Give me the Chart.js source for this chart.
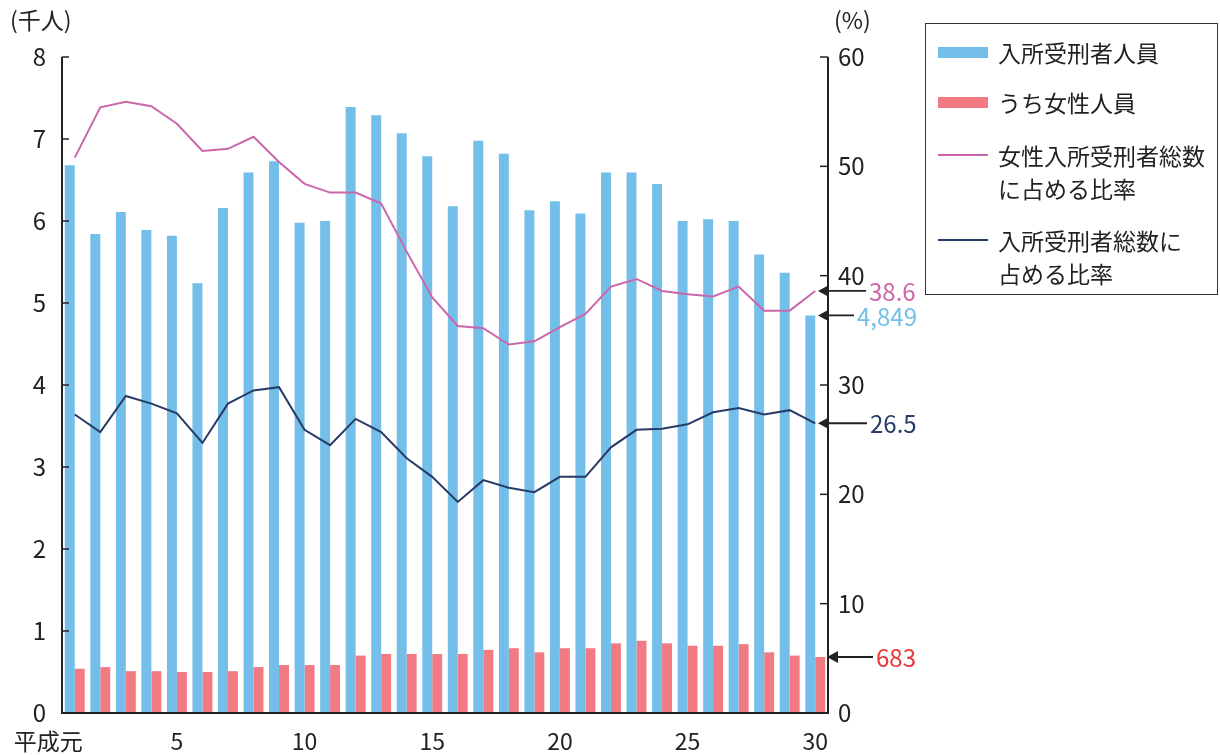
<!DOCTYPE html>
<html lang="ja">
<head>
<meta charset="utf-8">
<title>入所受刑者人員</title>
<script src="https://cdn.jsdelivr.net/npm/chart.js@4/dist/chart.umd.min.js"></script>
<style>
  html, body { margin: 0; padding: 0; background: #fff; }
  #wrap { position: relative; width: 1220px; height: 755px; font-family: "Noto Sans CJK JP", "Noto Sans", sans-serif; color: #222; }
  #legend { position: absolute; left: 925px; top: 23px; width: 291px; height: 270px; border: 1.5px solid #333; box-sizing: content-box; }
  .item { position: absolute; left: 0; font-size: 23px; line-height: 33px; }
  .item .sw { position: absolute; left: 12px; width: 50px; }
  .item .tx { position: absolute; left: 72px; white-space: nowrap; }
</style>
</head>
<body>
<div id="wrap">
  <canvas id="chart" width="1220" height="755"></canvas>
  <div id="legend"></div>
</div>
<script>
document.addEventListener('DOMContentLoaded', () => {
    // Data (平成元年〜30年)
    const years = ['平成元', '2', '3', '4', '5', '6', '7', '8', '9', '10',
        '11', '12', '13', '14', '15', '16', '17', '18', '19', '20',
        '21', '22', '23', '24', '25', '26', '27', '28', '29', '30'];
    const shownYears = ['平成元', '5', '10', '15', '20', '25', '30'];

    // 入所受刑者人員 (千人)
    const totalInmates = [6.68, 5.84, 6.11, 5.89, 5.82, 5.24, 6.16, 6.59, 6.73, 5.98,
        6.00, 7.39, 7.29, 7.07, 6.79, 6.18, 6.98, 6.82, 6.13, 6.24,
        6.09, 6.59, 6.59, 6.45, 6.00, 6.02, 6.00, 5.59, 5.37, 4.849];
    // うち女性人員 (千人)
    const femaleInmates = [0.54, 0.56, 0.51, 0.51, 0.50, 0.50, 0.51, 0.56, 0.585, 0.585,
        0.585, 0.70, 0.72, 0.72, 0.72, 0.72, 0.77, 0.79, 0.74, 0.79,
        0.79, 0.85, 0.88, 0.85, 0.82, 0.82, 0.84, 0.74, 0.70, 0.683];
    // 女性入所受刑者総数に占める比率 (%)
    const femaleRatio = [50.8, 55.4, 55.9, 55.5, 53.9, 51.4, 51.6, 52.7, 50.4, 48.4,
        47.6, 47.6, 46.6, 42.2, 38.0, 35.4, 35.2, 33.7, 34.0, 35.3,
        36.5, 39.0, 39.7, 38.6, 38.3, 38.1, 39.0, 36.8, 36.8, 38.6];
    // 入所受刑者総数に占める比率 (%)
    const totalRatio = [27.3, 25.7, 29.0, 28.3, 27.4, 24.7, 28.3, 29.5, 29.8, 25.9,
        24.5, 26.9, 25.7, 23.3, 21.6, 19.3, 21.3, 20.6, 20.2, 21.6,
        21.6, 24.3, 25.9, 26.0, 26.4, 27.5, 27.9, 27.3, 27.7, 26.5];

    const leftTicks = [0, 1, 2, 3, 4, 5, 6, 7, 8];
    const rightTicks = [0, 10, 20, 30, 40, 50, 60];

    const seriesNames = ['入所受刑者人員', 'うち女性人員',
        '女性入所受刑者総数\nに占める比率', '入所受刑者総数に\n占める比率'];

    const BLUE = '#74bfea';
    const RED = '#f27b83';
    const PINK = '#cc66aa';
    const NAVY = '#263c66';
    const INK = '#222222';
    const FONT = '"Noto Sans CJK JP", "Noto Sans", sans-serif';

    const last = years.length - 1;

    // Build legend
    const legend = document.getElementById('legend');
    const legendRows = [
        { name: seriesNames[0], color: BLUE, type: 'bar', top: 12 },
        { name: seriesNames[1], color: RED, type: 'bar', top: 62 },
        { name: seriesNames[2], color: PINK, type: 'line', top: 115 },
        { name: seriesNames[3], color: NAVY, type: 'line', top: 200 }
    ];
    legendRows.forEach(row => {
        const el = document.createElement('div');
        el.className = 'item';
        el.style.top = row.top + 'px';
        const sw = document.createElement('div');
        sw.className = 'sw';
        sw.style.background = row.color;
        if (row.type === 'bar') {
            sw.style.height = '11px';
            sw.style.top = '11px';
        } else {
            sw.style.height = '2px';
            sw.style.top = '15px';
        }
        const tx = document.createElement('div');
        tx.className = 'tx';
        tx.innerHTML = row.name.split('\n').join('<br>');
        el.appendChild(sw);
        el.appendChild(tx);
        legend.appendChild(el);
    });

    // Axes, x labels, titles and end-value arrows
    const decorPlugin = {
        id: 'decor',
        afterDraw(chart) {
            const ctx = chart.ctx;
            const area = chart.chartArea;
            const x = chart.scales.x;
            const y = chart.scales.y;
            const y1 = chart.scales.y1;
            ctx.save();
            ctx.strokeStyle = INK;
            ctx.lineWidth = 2;

            // axis lines
            ctx.beginPath();
            ctx.moveTo(area.left, area.top);
            ctx.lineTo(area.left, area.bottom);
            ctx.lineTo(area.right, area.bottom);
            ctx.lineTo(area.right, area.top);
            ctx.stroke();

            // inward ticks
            ctx.lineWidth = 1.5;
            leftTicks.forEach(v => {
                const py = y.getPixelForValue(v);
                ctx.beginPath();
                ctx.moveTo(area.left, py);
                ctx.lineTo(area.left + 7, py);
                ctx.stroke();
            });
            rightTicks.forEach(v => {
                const py = y1.getPixelForValue(v);
                ctx.beginPath();
                ctx.moveTo(area.right, py);
                ctx.lineTo(area.right - 8, py);
                ctx.stroke();
            });

            // x labels
            ctx.fillStyle = INK;
            ctx.font = '23px ' + FONT;
            ctx.textBaseline = 'middle';
            shownYears.forEach(lbl => {
                const i = years.indexOf(lbl);
                const px = x.getPixelForValue(i);
                if (i === 0) {
                    ctx.textAlign = 'right';
                    ctx.fillText(lbl, px + 8, area.bottom + 28);
                } else {
                    ctx.textAlign = 'center';
                    ctx.fillText(lbl, px, area.bottom + 28);
                }
            });

            // axis titles
            ctx.textAlign = 'left';
            ctx.fillText('(千人)', 10, 20);
            ctx.fillText('(%)', 834, 20);

            // end-value arrows
            const notes = [
                { py: y1.getPixelForValue(femaleRatio[last]), text: femaleRatio[last].toFixed(1), color: PINK, tip: -10, end: 866 },
                { py: y.getPixelForValue(totalInmates[last]), text: Math.round(totalInmates[last] * 1000).toLocaleString('en-US'), color: BLUE, tip: -10, end: 854 },
                { py: y1.getPixelForValue(totalRatio[last]), text: totalRatio[last].toFixed(1), color: NAVY, tip: -10, end: 867 },
                { py: y.getPixelForValue(femaleInmates[last]), text: String(Math.round(femaleInmates[last] * 1000)), color: '#e8383d', tip: -1, end: 873 }
            ];
            ctx.font = '24px ' + FONT;
            notes.forEach(n => {
                const tipX = area.right + n.tip;
                ctx.strokeStyle = INK;
                ctx.fillStyle = INK;
                ctx.lineWidth = 1.8;
                ctx.beginPath();
                ctx.moveTo(tipX + 8, n.py);
                ctx.lineTo(n.end, n.py);
                ctx.stroke();
                ctx.beginPath();
                ctx.moveTo(tipX, n.py);
                ctx.lineTo(tipX + 11, n.py - 6);
                ctx.lineTo(tipX + 11, n.py + 6);
                ctx.closePath();
                ctx.fill();
                ctx.fillStyle = n.color;
                ctx.textAlign = 'left';
                ctx.fillText(n.text, n.end + 3, n.py + 1);
            });
            ctx.restore();
        }
    };

    new Chart(document.getElementById('chart'), {
        type: 'bar',
        data: {
            labels: years,
            datasets: [
                {
                    type: 'line',
                    label: seriesNames[2],
                    data: femaleRatio,
                    yAxisID: 'y1',
                    borderColor: PINK,
                    borderWidth: 2,
                    pointRadius: 0,
                    tension: 0,
                    order: 0
                },
                {
                    type: 'line',
                    label: seriesNames[3],
                    data: totalRatio,
                    yAxisID: 'y1',
                    borderColor: NAVY,
                    borderWidth: 2,
                    pointRadius: 0,
                    tension: 0,
                    order: 0
                },
                {
                    label: seriesNames[0],
                    data: totalInmates,
                    yAxisID: 'y',
                    backgroundColor: BLUE,
                    categoryPercentage: 0.78,
                    barPercentage: 1.0,
                    order: 1
                },
                {
                    label: seriesNames[1],
                    data: femaleInmates,
                    yAxisID: 'y',
                    backgroundColor: RED,
                    categoryPercentage: 0.78,
                    barPercentage: 1.0,
                    order: 1
                }
            ]
        },
        options: {
            responsive: false,
            animation: false,
            layout: { padding: { top: 57, left: 0, right: 0, bottom: 0 } },
            plugins: {
                legend: { display: false },
                tooltip: { enabled: false }
            },
            scales: {
                x: {
                    grid: { display: false, drawTicks: false },
                    border: { display: false },
                    ticks: { display: false },
                    afterFit: s => { s.height = 42; }
                },
                y: {
                    position: 'left',
                    min: 0,
                    max: 8,
                    grid: { display: false, drawTicks: false },
                    border: { display: false },
                    afterBuildTicks: s => { s.ticks = leftTicks.map(v => ({ value: v })); },
                    ticks: {
                        padding: 16,
                        color: INK,
                        font: { family: FONT, size: 24 }
                    },
                    afterFit: s => { s.width = 62; }
                },
                y1: {
                    position: 'right',
                    min: 0,
                    max: 60,
                    grid: { display: false, drawTicks: false },
                    border: { display: false },
                    afterBuildTicks: s => { s.ticks = rightTicks.map(v => ({ value: v })); },
                    ticks: {
                        padding: 10,
                        color: INK,
                        font: { family: FONT, size: 24 }
                    },
                    afterFit: s => { s.width = 392; }
                }
            }
        },
        plugins: [decorPlugin]
    });
});
</script>
</body>
</html>
